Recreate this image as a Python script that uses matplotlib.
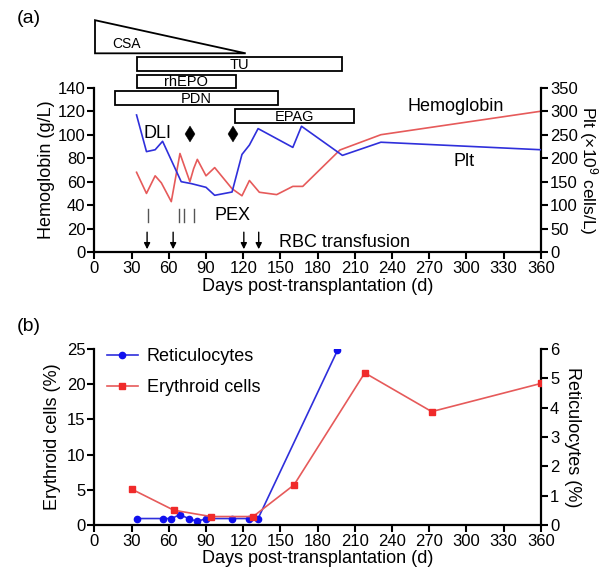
import matplotlib
matplotlib.use("Agg")
import matplotlib.pyplot as plt
from matplotlib.patches import Polygon, Rectangle

plt.rcParams['font.family'] = ['Liberation Sans', 'DejaVu Sans']
plt.rcParams['mathtext.fontset'] = 'custom'
plt.rcParams['mathtext.rm'] = 'Liberation Sans'
plt.rcParams['mathtext.it'] = 'Liberation Sans'

# ---------------- Data: panel (a) ----------------
hb_days = [34, 42, 49, 54, 62, 69, 77, 80, 83, 90, 97, 111, 119, 125, 133, 147, 160, 168, 198, 231, 360]
hb_vals = [68, 50, 65, 59, 43, 84, 60, 71, 79, 65, 72, 54, 48, 61, 51, 49, 56, 56, 87, 100, 120]

plt_days = [34, 42, 49, 55, 70, 78, 90, 97, 111, 119, 125, 132, 160, 167, 200, 231, 360]
plt_vals = [292, 214, 218, 236, 150, 146, 138, 121, 128, 208, 228, 263, 223, 268, 206, 234, 218]

drug_names = ["TU", "rhEPO", "PDN", "EPAG"]
drug_start = [34, 34, 17, 113]
drug_end = [200, 114, 148, 209]
drug_low = [154, 140, 125, 110]
drug_high = [166, 150.5, 137, 122]
csa_start, csa_end = 0, 122

dli_days = [77, 112]
pex_days = [43, 68, 72, 80]
rbc_days = [42.5, 63.5, 120.5, 132.5]

# ---------------- Data: panel (b) ----------------
ery_days = [30, 64, 94, 128, 161, 218, 272, 360]
ery_vals = [5.1, 2.1, 1.2, 1.2, 5.7, 21.6, 16.1, 20.1]

ret_days = [34, 55, 62, 69, 76, 83, 90, 111, 125, 132, 196]
ret_vals = [0.22, 0.22, 0.22, 0.35, 0.22, 0.12, 0.22, 0.22, 0.22, 0.22, 5.95]

xticks = list(range(0, 361, 30))

BLUE = '#2f2fdb'
RED = '#e65a5a'
FS_TICK = 12
FS_LAB = 13

fig = plt.figure(figsize=(6.05, 5.81), dpi=100)

def style(ax):
    ax.spines['top'].set_visible(False)
    for s in ['left', 'right', 'bottom']:
        ax.spines[s].set_linewidth(1.6)
    ax.tick_params(width=1.5, length=5, labelsize=FS_TICK, pad=1.5)

# ---------- panel (a) ----------
ax = fig.add_axes([0.156, 0.566, 0.738, 0.283])
ax2 = ax.twinx()
ax.plot(hb_days, hb_vals, color=RED, lw=1.2, zorder=3)
ax2.plot(plt_days, plt_vals, color=BLUE, lw=1.2, zorder=3)
ax.set_xlim(0, 360)
ax.set_ylim(0, 140)
ax2.set_ylim(0, 350)
ax.set_xticks(xticks)
ax.set_yticks(range(0, 141, 20))
ax2.set_yticks(range(0, 351, 50))
style(ax); style(ax2)
ax2.spines['left'].set_visible(False)
ax2.spines['bottom'].set_visible(False)
ax.spines['right'].set_visible(False)
ax.set_ylabel('Hemoglobin (g/L)', fontsize=FS_LAB, labelpad=2)
ax2.set_ylabel(r'Plt (×10$^{9}$ cells/L)', fontsize=12.5, rotation=270, labelpad=16)
ax.set_xlabel('Days post-transplantation (d)', fontsize=FS_LAB, labelpad=1)

# CSA triangle
tri = Polygon([[csa_start + 0.5, 197.5], [csa_start + 0.5, 169.3], [csa_end, 169.3]],
              closed=True, fill=False, edgecolor='black', lw=1.3, clip_on=False)
ax.add_patch(tri)
ax.text(26, 177, 'CSA', fontsize=10, ha='center', va='center', clip_on=False)

for name, s, e, lo, hi in zip(drug_names, drug_start, drug_end, drug_low, drug_high):
    r = Rectangle((s, lo), e - s, hi - lo, fill=True, facecolor='white', edgecolor='black',
                  lw=1.3, clip_on=False, zorder=4)
    ax.add_patch(r)
    ax.text((s + e) / 2, (lo + hi) / 2 - 0.5, name, fontsize=10.5, ha='center', va='center',
            clip_on=False, zorder=5)

ax.text(51, 101, 'DLI', fontsize=13, ha='center', va='center')
ax.plot(dli_days, [101] * len(dli_days), linestyle='none', marker='d', markersize=8,
        color='black', markeredgewidth=0.3, zorder=5)

for d in pex_days:
    ax.plot([d, d], [25.5, 37], color='#555555', lw=1.0)
ax.text(97, 31.5, 'PEX', fontsize=13, ha='left', va='center')

for d in rbc_days:
    ax.annotate('', xy=(d, 2.5), xytext=(d, 17),
                arrowprops=dict(arrowstyle='-|>', color='black', lw=1.0,
                                mutation_scale=9, shrinkA=0, shrinkB=0))
ax.text(149, 8.5, 'RBC transfusion', fontsize=13, ha='left', va='center')

ax.text(291, 124, 'Hemoglobin', fontsize=13, ha='center', va='center')
ax.text(298, 77, 'Plt', fontsize=13, ha='center', va='center')

fig.text(0.028, 0.968, '(a)', fontsize=14, ha='left', va='center')

# ---------- panel (b) ----------
bx = fig.add_axes([0.156, 0.0964, 0.738, 0.303])
bx2 = bx.twinx()
l1, = bx2.plot(ret_days, ret_vals, color=BLUE, lw=1.2, marker='o', markersize=4.5,
               markerfacecolor='#1010ee', markeredgecolor='#1010ee', zorder=3)
l2, = bx.plot(ery_days, ery_vals, color=RED, lw=1.2, marker='s', markersize=4.5,
              markerfacecolor='#f02a2a', markeredgecolor='#f02a2a', zorder=3)
bx.set_xlim(0, 360)
bx.set_ylim(0, 25)
bx2.set_ylim(0, 6)
bx.set_xticks(xticks)
bx.set_yticks(range(0, 26, 5))
bx2.set_yticks(range(0, 7, 1))
style(bx); style(bx2)
bx2.spines['left'].set_visible(False)
bx2.spines['bottom'].set_visible(False)
bx.spines['right'].set_visible(False)
bx.set_ylabel('Erythroid cells (%)', fontsize=FS_LAB, labelpad=4)
bx2.set_ylabel('Reticulocytes (%)', fontsize=FS_LAB, rotation=270, labelpad=16)
bx.set_xlabel('Days post-transplantation (d)', fontsize=FS_LAB, labelpad=1)
bx.set_zorder(bx2.get_zorder() + 1)
bx.patch.set_visible(False)
leg = bx.legend([l1, l2], ['Reticulocytes', 'Erythroid cells'], loc='upper left',
                bbox_to_anchor=(0.0, 1.075), frameon=False, fontsize=13,
                handlelength=1.7, labelspacing=0.75, handletextpad=0.5, borderaxespad=0.3)

fig.text(0.028, 0.438, '(b)', fontsize=14, ha='left', va='center')

fig.savefig('out.png', dpi=100)
